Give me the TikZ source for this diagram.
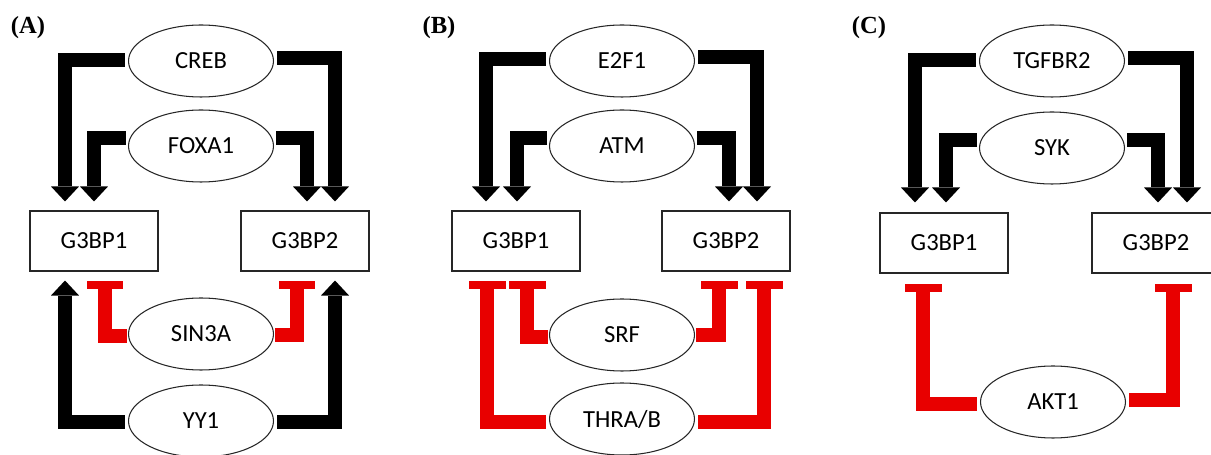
\documentclass[tikz,border=0pt]{standalone}
\usepackage{fontspec}
\setmainfont{Carlito}
\newfontfamily\labfont{Liberation Serif}
\usetikzlibrary{arrows.meta,calc,shapes.geometric}
\definecolor{inhred}{RGB}{232,0,0}
\begin{document}
\begin{tikzpicture}[x=0.02cm,y=-0.02cm,
  tf/.style={draw=black!85,ellipse,line width=0.6pt,minimum width=2.9cm,minimum height=1.44cm,inner sep=0pt,font=\fontsize{14}{16}\selectfont},
  gene/.style={draw=black!85,rectangle,line width=0.6pt,minimum width=2.56cm,minimum height=1.2cm,inner sep=0pt,font=\fontsize{14}{16}\selectfont},
  act/.style={line width=0.28cm,line join=miter,-{Triangle[width=0.56cm,length=0.3cm,line width=0pt]}},
  inh/.style={draw=inhred,line width=0.28cm,line join=miter,-{Rectangle[width=0.74cm,length=0.17cm,line width=0pt]}},
  panel/.style={font=\labfont\bfseries\fontsize{14}{16}\selectfont}]
\useasboundingbox (0,0) rectangle (1211,455);
\fill[white] (0,0) rectangle (1211,455);
% Panel labels
\node[panel] (la) at (28,28) {(A)};
\node[panel] (lb) at (439,28) {(B)};
\node[panel] (lc) at (869,28) {(C)};
% Panel A
\node[tf] (creb) at (201,61) {CREB};
\node[tf] (foxa) at (201,146) {FOXA1};
\node[tf] (sin) at (201,334) {SIN3A};
\node[tf] (yy) at (201,421) {YY1};
\node[gene] (a1) at (94,241) {G3BP1};
\node[gene] (a2) at (305,241) {G3BP2};
\draw[act] ($(creb.west)+(-3,-1)$) -| ($(a1.north)+(-29,-9)$);
\draw[act] ($(foxa.west)+(-2,-8)$) -| ($(a1.north)+(0,-9)$);
\draw[act] ($(foxa.east)+(2,-8)$) -| ($(a2.north)+(2,-9)$);
\draw[act] ($(creb.east)+(3,-3)$) -| ($(a2.north)+(30,-9)$);
\draw[act] ($(yy.west)+(-3,1)$) -| ($(a1.south)+(-29,9)$);
\draw[act] ($(yy.east)+(3,1)$) -| ($(a2.south)+(30,9)$);
\draw[inh] ($(sin.west)+(-1,2)$) -| ($(a1.south)+(11,9)$);
\draw[inh] ($(sin.east)+(1,1)$) -| ($(a2.south)+(-8,9)$);
% Panel B
\node[tf] (e2f) at (622,61) {E2F1};
\node[tf] (atm) at (622,146) {ATM};
\node[tf] (srf) at (622,335) {SRF};
\node[tf] (thr) at (622,419) {THRA/B};
\node[gene] (b1) at (516,241) {G3BP1};
\node[gene] (b2) at (726,241) {G3BP2};
\draw[act] ($(e2f.west)+(-3,-2)$) -| ($(b1.north)+(-30,-9)$);
\draw[act] ($(atm.west)+(-2,-8)$) -| ($(b1.north)+(1,-9)$);
\draw[act] ($(atm.east)+(2,-8)$) -| ($(b2.north)+(3,-9)$);
\draw[act] ($(e2f.east)+(3,-4)$) -| ($(b2.north)+(31,-9)$);
\draw[inh] ($(thr.west)+(-3,3)$) -| ($(b1.south)+(-29,9)$);
\draw[inh] ($(srf.west)+(-1,2)$) -| ($(b1.south)+(11,9)$);
\draw[inh] ($(srf.east)+(1,0)$) -| ($(b2.south)+(-7,9)$);
\draw[inh] ($(thr.east)+(3,3)$) -| ($(b2.south)+(38,9)$);
% Panel C
\node[tf] (tgf) at (1052,61) {TGFBR2};
\node[tf] (syk) at (1052,148) {SYK};
\node[tf] (akt) at (1053,402) {AKT1};
\node[gene] (c1) at (944,243) {G3BP1};
\node[gene] (c2) at (1156,243) {G3BP2};
\draw[act] ($(tgf.west)+(-3,-1)$) -| ($(c1.north)+(-29,-10)$);
\draw[act] ($(syk.west)+(-2,-8)$) -| ($(c1.north)+(2,-10)$);
\draw[act] ($(syk.east)+(2,-8)$) -| ($(c2.north)+(2,-10)$);
\draw[act] ($(tgf.east)+(3,-3)$) -| ($(c2.north)+(31,-10)$);
\draw[inh] ($(akt.west)+(-3,2)$) -| ($(c1.south)+(-21,10)$);
\draw[inh] ($(akt.east)+(3,-2)$) -| ($(c2.south)+(17,10)$);
\end{tikzpicture}
\end{document}
